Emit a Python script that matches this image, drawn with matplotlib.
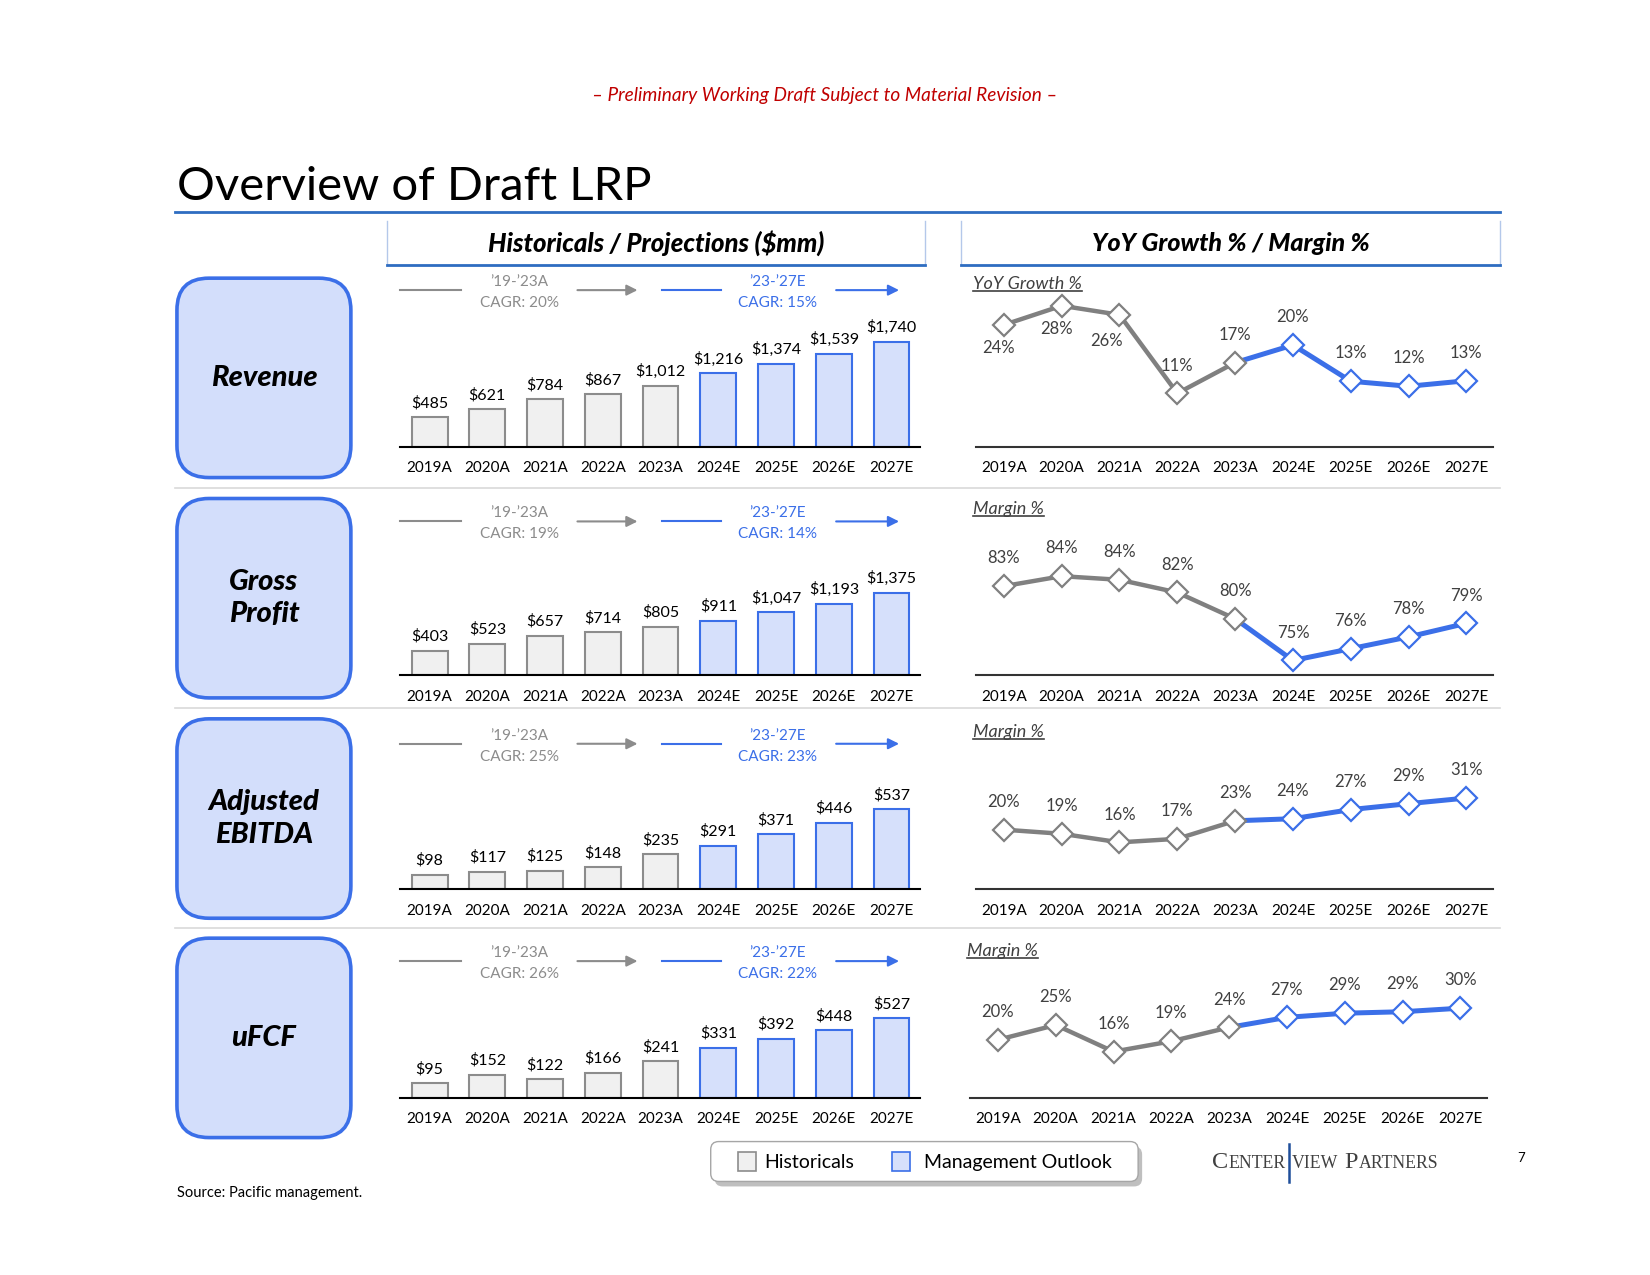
import matplotlib
matplotlib.use('Agg')
import matplotlib.pyplot as plt
import matplotlib.transforms as mtransforms
from matplotlib.patches import FancyBboxPatch, Rectangle
from matplotlib.lines import Line2D

plt.rcParams['font.family'] = ['Lato', 'DejaVu Sans']

# ---- data ----
years = ['2019A', '2020A', '2021A', '2022A', '2023A', '2024E', '2025E', '2026E', '2027E']
n_hist = 5

revenue = [485, 621, 784, 867, 1012, 1216, 1374, 1539, 1740]
gross_profit = [403, 523, 657, 714, 805, 911, 1047, 1193, 1375]
adj_ebitda = [98, 117, 125, 148, 235, 291, 371, 446, 537]
ufcf = [95, 152, 122, 166, 241, 331, 392, 448, 527]

rev_growth = [24.2, 28.0, 26.2, 10.6, 16.7, 20.2, 13.0, 12.0, 13.1]
gp_margin = [83.1, 84.2, 83.8, 82.4, 79.5, 74.9, 76.2, 77.5, 79.0]
ebitda_margin = [20.2, 18.8, 15.9, 17.1, 23.2, 23.9, 27.0, 29.0, 30.9]
ufcf_margin = [19.6, 24.6, 15.6, 19.1, 23.8, 27.2, 28.6, 29.1, 30.3]

row_names = ['Revenue', 'Gross\nProfit', 'Adjusted\nEBITDA', 'uFCF']
line_titles = ['YoY Growth %', 'Margin %', 'Margin %', 'Margin %']
cagr_hist = ['20%', '19%', '25%', '26%']
cagr_proj = ['15%', '14%', '23%', '22%']
# label below (-1) or above (+1) the point
rev_lbl_side = [-1, -1, -1, 1, 1, 1, 1, 1, 1]

bar_data = [revenue, gross_profit, adj_ebitda, ufcf]
line_data = [rev_growth, gp_margin, ebitda_margin, ufcf_margin]
line_sides = [rev_lbl_side, [1] * 9, [1] * 9, [1] * 9]

# scales of each small chart
bar_ymax = [2650, 2670, 1070, 1060]
line_ylim = [(0, 31.7), (73.3, 90.9), (0, 54), (0, 54)]

# ---- colours ----
GRAY = '#8C8C8C'
BLUE = '#3B6FE8'
HIST_FILL = '#F0F0F0'
PROJ_FILL = '#D6E0FB'
BOX_FILL = '#D3DEFB'
DARK = '#404040'
HEAD_BLUE = '#2E6DC1'

# ---- page layout (pixels) ----
W, H = 1650, 1275
K = 0.994
KY = 0.997
row_base = [448, 677, 892, 1101]
box_top = [279, 500, 721, 941]
cagr_y = [291, 523, 746, 964]
sub_y = [285, 511, 734, 954]
line_x0 = [982, 982, 982, 976]

fig = plt.figure(figsize=(16.5, 12.75), dpi=100)
fig.patch.set_facecolor('white')


def fx(x):
    return x * K / W


def fy(y):
    return 1 - y * KY / H


def inch(x, y):
    return x * K / 100, (H - y * KY) / 100


def fline(xs, ys, **kw):
    fig.add_artist(Line2D([fx(v) for v in xs], [fy(v) for v in ys],
                          transform=fig.transFigure, **kw))


# header text
fig.text(fx(830), fy(96), '\u2013 Preliminary Working Draft Subject to Material Revision \u2013',
         color='#C00000', style='italic', fontsize=13.7, ha='center', va='center')
fig.text(fx(178), fy(201), 'Overview of Draft LRP', fontsize=34, ha='left',
         va='baseline', color='black')
fline([176, 1509], [213, 213], color=HEAD_BLUE, lw=2)

# column headers
for x0, x1, label, fs in [(389, 931, 'Historicals / Projections ($mm)', 18.5),
                          (967, 1509, 'YoY Growth % / Margin %', 18)]:
    fline([x0, x0], [222, 266], color='#B4C8EA', lw=1)
    fline([x1, x1], [222, 266], color='#B4C8EA', lw=1)
    fline([x0, x1], [266, 266], color=HEAD_BLUE, lw=2)
    fig.text(fx((x0 + x1) / 2), fy(244), label, fontsize=fs, fontweight='black',
             style='italic', ha='center', va='center')

# row separators
for y in [489, 710, 931]:
    fline([176, 1509], [y, y], color='#D9D9D9', lw=1.2)

sub_texts = []
for r in range(4):
    base = row_base[r]

    # left label box
    bx, by = inch(178, box_top[r] + 200)
    fig.add_artist(FancyBboxPatch((bx, by), 1.75 * K, 2.0 * KY,
                                  boxstyle='round,pad=0,rounding_size=0.32',
                                  transform=fig.dpi_scale_trans, fc=BOX_FILL,
                                  ec=BLUE, lw=2.6))
    fig.text(fx(265.5), fy(box_top[r] + 100), row_names[r], fontsize=21,
             fontweight='black', style='italic', ha='center', va='center',
             linespacing=1.3)

    # bar chart
    ax = fig.add_axes([fx(402), fy(base), (926 - 402) * K / W, 160 * KY / H])
    vals = bar_data[r]
    xs = list(range(len(years)))
    fills = [HIST_FILL if i < n_hist else PROJ_FILL for i in xs]
    edges = [GRAY if i < n_hist else BLUE for i in xs]
    ax.bar(xs, vals, width=0.62, color=fills, edgecolor=edges, linewidth=1.5, zorder=2)
    for i, v in enumerate(vals):
        ax.annotate(f'${v:,}', (i, v), xytext=(0, 5), textcoords='offset points',
                    ha='center', va='bottom', fontsize=11.5, color='black')
    ax.set_xlim(-0.52, 8.5)
    ax.set_ylim(0, bar_ymax[r])
    ax.set_xticks(xs)
    ax.set_xticklabels(years, fontsize=11)
    ax.tick_params(axis='x', length=0, pad=10.5)
    ax.set_yticks([])
    for s in ['top', 'left', 'right']:
        ax.spines[s].set_visible(False)
    ax.spines['bottom'].set_linewidth(1.5)
    ax.spines['bottom'].set_color('black')
    ax.patch.set_alpha(0)

    # CAGR callouts
    trans = mtransforms.blended_transform_factory(ax.transData, fig.transFigure)
    cy = cagr_y[r]
    for (l0, l1, tx, a0, a1, col, lab, cg) in [
            (-0.51, 0.55, 1.55, 2.56, 3.6, GRAY, '\u201919-\u201923A', cagr_hist[r]),
            (4.02, 5.04, 6.02, 7.04, 8.13, BLUE, '\u201923-\u201927E', cagr_proj[r])]:
        ax.add_line(Line2D([l0, l1], [fy(cy), fy(cy)], transform=trans, color=col,
                           lw=1.5, clip_on=False))
        ax.annotate('', xy=(a1, fy(cy)), xytext=(a0, fy(cy)), xycoords=trans,
                    arrowprops=dict(arrowstyle='-|>', color=col, lw=1.5,
                                    mutation_scale=16, shrinkA=0, shrinkB=0),
                    annotation_clip=False)
        ax.text(tx, fy(cy - 8), lab, transform=trans, ha='center', va='center',
                color=col, fontsize=11)
        ax.text(tx, fy(cy + 13), 'CAGR: ' + cg, transform=trans, ha='center',
                va='center', color=col, fontsize=11)

    # line chart
    lx = fig.add_axes([fx(line_x0[r]), fy(base), 520 * K / W, 160 * KY / H])
    lv = line_data[r]
    lx.plot(xs[:n_hist], lv[:n_hist], color='#808080', lw=3.2, zorder=2,
            solid_capstyle='round')
    lx.plot(xs[n_hist - 1:], lv[n_hist - 1:], color=BLUE, lw=3.6, zorder=2,
            solid_capstyle='round')
    lx.plot(xs[:n_hist], lv[:n_hist], ls='none', marker='D', ms=11, mfc='white',
            mec='#808080', mew=1.6, zorder=3, clip_on=False)
    lx.plot(xs[n_hist:], lv[n_hist:], ls='none', marker='D', ms=11, mfc='white',
            mec=BLUE, mew=1.6, zorder=3, clip_on=False)
    for i, v in enumerate(lv):
        side = line_sides[r][i]
        dx, dy = 0, 20
        if side < 0:
            dx, dy = -4, -17
            if i == 2:
                dx, dy = -9, -19
        lx.annotate(f'{v:.0f}%', (i, v), xytext=(dx, dy),
                    textcoords='offset points', ha='center', va='center',
                    fontsize=12, color=DARK)
    lx.set_xlim(-0.48, 8.46)
    lx.set_ylim(*line_ylim[r])
    lx.set_xticks(xs)
    lx.set_xticklabels(years, fontsize=11)
    lx.tick_params(axis='x', length=0, pad=10.5)
    lx.set_yticks([])
    for s in ['top', 'left', 'right']:
        lx.spines[s].set_visible(False)
    lx.spines['bottom'].set_linewidth(1.5)
    lx.spines['bottom'].set_color('#333333')
    lx.patch.set_alpha(0)

    t = fig.text(fx(line_x0[r] - 3), fy(sub_y[r]), line_titles[r], style='italic',
                 fontsize=13, color=DARK, ha='left', va='center')
    sub_texts.append(t)

# legend
lx0, ly0 = inch(715, 1185)
fig.add_artist(FancyBboxPatch((lx0 + 0.04, ly0 - 0.05), 4.3 * K, 0.4 * KY,
                              boxstyle='round,pad=0,rounding_size=0.08',
                              transform=fig.dpi_scale_trans, fc='#BFBFBF', ec='none'))
fig.add_artist(FancyBboxPatch((lx0, ly0), 4.3 * K, 0.4 * KY,
                              boxstyle='round,pad=0,rounding_size=0.08',
                              transform=fig.dpi_scale_trans, fc='white', ec='#A6A6A6',
                              lw=1))
for sx, fc, ec, lab, tx in [(742, HIST_FILL, GRAY, 'Historicals', 769),
                            (897, PROJ_FILL, BLUE, 'Management Outlook', 930)]:
    qx, qy = inch(sx, 1175)
    fig.add_artist(Rectangle((qx, qy), 0.18, 0.19, transform=fig.dpi_scale_trans,
                             fc=fc, ec=ec, lw=1.2))
    fig.text(fx(tx), fy(1166), lab, fontsize=14, ha='left', va='center', color='black')

fig.text(fx(178), fy(1197), 'Source: Pacific management.', fontsize=10.5,
         ha='left', va='center')
fig.text(fx(1530), fy(1161), '7', fontsize=9.5, ha='center', va='center')

# logo in small caps, placed piece by piece
renderer = fig.canvas.get_renderer()
logo_font = ['Liberation Serif', 'DejaVu Serif']
cur = 1219
pieces = [('C', 17.5), ('ENTER', 12.8), ('|', 0), ('VIEW', 12.8), (' ', 12.8),
          ('P', 17.5), ('ARTNERS', 12.8)]
for txt, size in pieces:
    if txt == '|':
        fline([cur + 2, cur + 2], [1147, 1186], color='#1F4E9A', lw=1.8)
        cur += 5
        continue
    t = fig.text(fx(cur), fy(1172), txt, fontsize=size, family=logo_font,
                 color=DARK, ha='left', va='baseline')
    bb = t.get_window_extent(renderer)
    cur += (bb.width + 1) / K

# underline the small chart titles
for t in sub_texts:
    bb = t.get_window_extent(renderer)
    fig.add_artist(Line2D([bb.x0 / W, bb.x1 / W], [(bb.y0 + 1) / H] * 2,
                          transform=fig.transFigure, color=DARK, lw=1.2))

fig.savefig('out.png', dpi=100)
